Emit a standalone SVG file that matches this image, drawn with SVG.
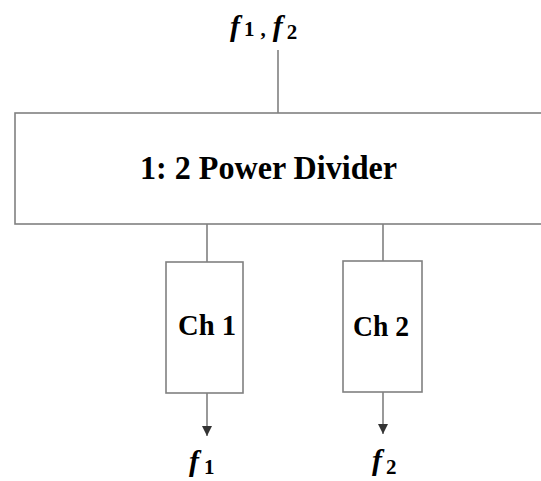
<svg xmlns="http://www.w3.org/2000/svg" width="541" height="481" viewBox="0 0 541 481">
<style>
.box{fill:#fff;stroke:#808080;stroke-width:1.6}
.ln{stroke:#808080;stroke-width:1.6;fill:none}
.t{font-family:"Liberation Serif","Times New Roman",serif;font-weight:bold;fill:#000}
.lab{font-family:"Liberation Serif","Times New Roman",serif;font-weight:bold;fill:#000}
.f{font-style:italic;font-size:30px}
.s{font-style:normal;font-size:21px}
</style>
<defs>
<marker id="ah" viewBox="0 0 10 10" refX="10" refY="5" markerWidth="10" markerHeight="10" markerUnits="userSpaceOnUse" orient="auto">
<path d="M0,0 L10,5 L0,10 z" fill="#333"/>
</marker>
</defs>
<rect width="541" height="481" fill="#fff"/>
<g id="connectors">
<line class="ln" x1="278" y1="50" x2="278" y2="113"/>
<line class="ln" x1="207" y1="224" x2="207" y2="262"/>
<line class="ln" x1="383" y1="224" x2="383" y2="261"/>
<line class="ln" x1="207" y1="393" x2="207" y2="436" marker-end="url(#ah)"/>
<line class="ln" x1="383" y1="392" x2="383" y2="434" marker-end="url(#ah)"/>
</g>
<g id="input-label">
<text class="lab" x="230" y="36"><tspan class="f">f</tspan><tspan class="s" dx="4" dy="0">1</tspan><tspan class="s" dx="6">,</tspan><tspan class="f" dx="7">f</tspan><tspan class="s" dx="4" dy="3">2</tspan></text>
</g>
<g id="divider">
<rect class="box" x="15" y="113" width="530" height="111"/>
<text class="t" x="140" y="179" font-size="34" textLength="257" lengthAdjust="spacingAndGlyphs">1: 2 Power Divider</text>
</g>
<g id="ch1">
<rect class="box" x="166" y="262" width="77" height="131"/>
<text class="t" x="178" y="335" font-size="29" textLength="58" lengthAdjust="spacingAndGlyphs">Ch 1</text>
</g>
<g id="ch2">
<rect class="box" x="343" y="261" width="79" height="131"/>
<text class="t" x="353" y="336" font-size="29" textLength="56" lengthAdjust="spacingAndGlyphs">Ch 2</text>
</g>
<g id="out1">
<text class="lab" x="189" y="471"><tspan class="f">f</tspan><tspan class="s" dx="5" dy="3">1</tspan></text>
</g>
<g id="out2">
<text class="lab" x="372" y="470"><tspan class="f">f</tspan><tspan class="s" dx="4" dy="4">2</tspan></text>
</g>
</svg>
